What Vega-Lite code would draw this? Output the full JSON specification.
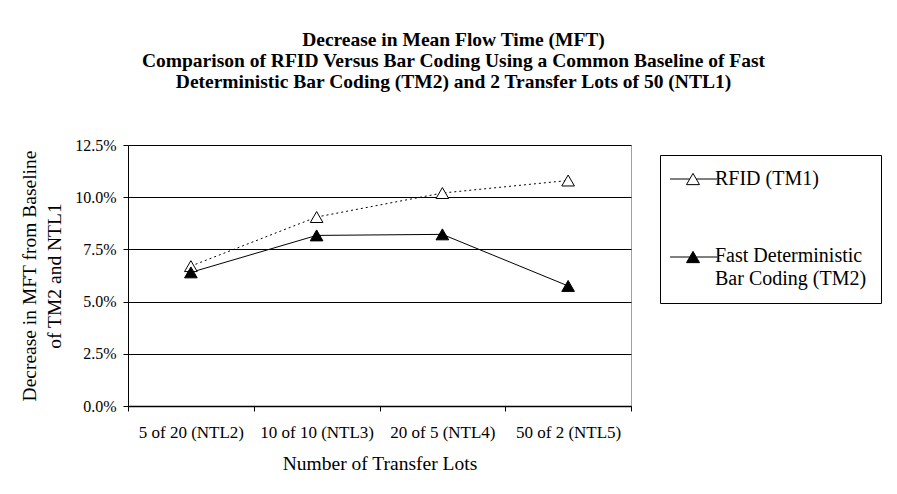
{
  "$schema": "https://vega.github.io/schema/vega-lite/v6.json",
  "autosize": "none",
  "width": 503,
  "height": 261,
  "padding": {"left": 128, "top": 145, "right": 266, "bottom": 88},
  "background": "white",
  "config": {
    "font": "Liberation Serif",
    "view": {"stroke": "#a0a0a0", "strokeWidth": 1},
    "axis": {"labelColor": "black", "titleColor": "black", "domainColor": "black", "tickColor": "black", "titleFontWeight": "normal"}
  },
  "title": {
    "text": [
      "Decrease in Mean Flow Time (MFT)",
      "Comparison of RFID Versus Bar Coding Using a Common Baseline of Fast",
      "Deterministic Bar Coding (TM2) and 2 Transfer Lots of 50 (NTL1)"
    ],
    "anchor": "middle",
    "dx": 74,
    "fontSize": 19.5,
    "fontWeight": "bold",
    "lineHeight": 21,
    "offset": 45,
    "color": "black",
    "font": "Liberation Serif"
  },
  "data": {
    "values": [
      {"lots": "5 of 20 (NTL2)", "series": "RFID (TM1)", "decrease": 0.067},
      {"lots": "10 of 10 (NTL3)", "series": "RFID (TM1)", "decrease": 0.0905},
      {"lots": "20 of 5 (NTL4)", "series": "RFID (TM1)", "decrease": 0.102},
      {"lots": "50 of 2 (NTL5)", "series": "RFID (TM1)", "decrease": 0.108},
      {"lots": "5 of 20 (NTL2)", "series": "Fast Deterministic Bar Coding (TM2)", "decrease": 0.064},
      {"lots": "10 of 10 (NTL3)", "series": "Fast Deterministic Bar Coding (TM2)", "decrease": 0.0817},
      {"lots": "20 of 5 (NTL4)", "series": "Fast Deterministic Bar Coding (TM2)", "decrease": 0.0822},
      {"lots": "50 of 2 (NTL5)", "series": "Fast Deterministic Bar Coding (TM2)", "decrease": 0.0575}
    ]
  },
  "encoding": {
    "x": {
      "field": "lots",
      "type": "nominal",
      "sort": null,
      "bandPosition": 0.5,
      "scale": {"type": "band", "paddingInner": 0, "paddingOuter": 0},
      "axis": {
        "title": "Number of Transfer Lots",
        "titleFontSize": 19.5,
        "titlePadding": 14,
        "labelFontSize": 17,
        "labelAngle": 0,
        "labelPadding": 13,
        "tickSize": 5,
        "tickBand": "extent",
        "grid": false,
        "domainWidth": 1.5
      }
    },
    "y": {
      "field": "decrease",
      "type": "quantitative",
      "scale": {"domain": [0, 0.125], "nice": false},
      "axis": {
        "title": ["Decrease in MFT from Baseline", "of TM2 and NTL1"],
        "titleFontSize": 19.5,
        "titleLineHeight": 25,
        "titlePadding": 10,
        "values": [0, 0.025, 0.05, 0.075, 0.1, 0.125],
        "format": ".1%",
        "labelFontSize": 16,
        "labelPadding": 7,
        "tickSize": 5,
        "grid": true,
        "gridColor": "black",
        "gridWidth": 1
      }
    }
  },
  "layer": [
    {
      "transform": [{"filter": "datum.series == 'RFID (TM1)'"}],
      "mark": {"type": "line", "color": "black", "strokeWidth": 1, "strokeDash": [2, 3]},
      "encoding": {}
    },
    {
      "transform": [{"filter": "datum.series != 'RFID (TM1)'"}],
      "mark": {"type": "line", "color": "black", "strokeWidth": 1},
      "encoding": {}
    },
    {
      "mark": {"type": "point", "shape": "triangle-up", "size": 160, "filled": true, "stroke": "black", "strokeWidth": 1, "opacity": 1},
      "encoding": {
        "fill": {
          "field": "series",
          "type": "nominal",
          "scale": {
            "domain": ["RFID (TM1)", "Fast Deterministic Bar Coding (TM2)"],
            "range": ["white", "black"]
          },
          "legend": {
            "title": null,
            "orient": "none",
            "legendX": 532,
            "legendY": 10,
            "padding": 14,
            "strokeColor": "black",
            "labelFont": "Liberation Serif",
            "labelFontSize": 20,
            "labelColor": "black",
            "labelLimit": 300,
            "labelOffset": 12,
            "symbolOffset": 9,
            "symbolSize": 169,
            "symbolType": "M-3.54,0H-0.5M0.5,0H3.69M0,-0.866L1,0.866L-1,0.866Z",
            "symbolStrokeColor": "black",
            "symbolStrokeWidth": 1,
            "symbolOpacity": 1,
            "rowPadding": 56,
            "labelExpr": "datum.value == 'RFID (TM1)' ? 'RFID (TM1)' : ['Fast Deterministic', 'Bar Coding (TM2)']",
            "encode": {
              "labels": {
                "update": {
                  "lineHeight": {"value": 23},
                  "dy": {"signal": "datum.value == 'RFID (TM1)' ? 0 : -1.5"}
                }
              }
            }
          }
        }
      }
    }
  ]
}
